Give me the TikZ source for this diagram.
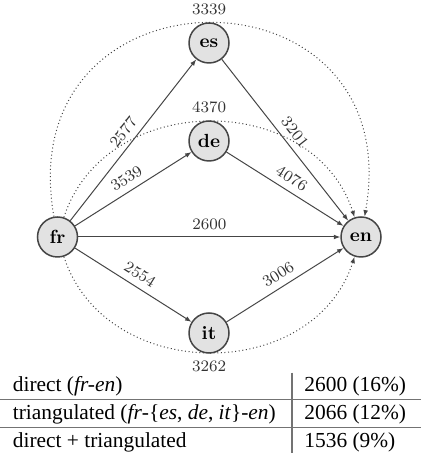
\documentclass[tikz,border=0pt]{standalone}
\usepackage{fontspec}
\newfontfamily\tabfont{Liberation Serif}
\usetikzlibrary{arrows.meta}
\definecolor{lnc}{HTML}{454545}
\definecolor{nfill}{HTML}{E2E2E2}
\begin{document}
\begin{tikzpicture}[x=0.5pt,y=0.5pt,
  lang/.style={circle,draw=lnc,fill=nfill,line width=0.75pt,minimum size=20pt,inner sep=0pt,
    font=\fontsize{9.5}{11}\selectfont\bfseries},
  cnt/.style={font=\fontsize{8}{9}\selectfont,text=black!80},
  edge/.style={draw=lnc,line width=0.5pt,-{Latex[length=3.2pt,width=2.4pt]}},
  arcd/.style={draw=lnc,line width=0.5pt,dash pattern=on 0.5pt off 1.3pt,-{Latex[length=3.2pt,width=2.4pt]}},
  lbl/.style={midway,above,sloped,font=\fontsize{8}{9}\selectfont,text=black!80},
  tline/.style={draw=black!55,line width=0.6pt},
  ttext/.style={anchor=base west,inner sep=0pt,font=\tabfont\fontsize{10.7}{12}\selectfont}]
\useasboundingbox (0,0) rectangle (421,453);
% language nodes
\node[lang] (fr) at (57.5,216) {fr};
\node[lang] (en) at (361,216) {en};
\node[lang,label={[cnt]above:3339}] (es) at (209,410) {es};
\node[lang,label={[cnt]above:4370}] (de) at (209,312) {de};
\node[lang,label={[cnt]below:3262}] (it) at (209,120) {it};
% dotted triangulation arcs
\draw[arcd] (fr.100) .. controls +(100:262) and +(80:262) .. (en.80);
\draw[arcd] (fr.72) .. controls +(72:134) and +(108:134) .. (en.108);
\draw[arcd] (fr.-72) .. controls +(-72:134) and +(-108:134) .. (en.-108);
% direct edges
\draw[edge] (fr) -- node[lbl]{2577} (es);
\draw[edge] (fr) -- node[lbl]{3539} (de);
\draw[edge] (fr) -- node[lbl]{2600} (en);
\draw[edge] (fr) -- node[lbl]{2554} (it);
\draw[edge] (es) -- node[lbl]{3201} (en);
\draw[edge] (de) -- node[lbl]{4076} (en);
\draw[edge] (it) -- node[lbl]{3006} (en);
% table
\coordinate (hl1) at (0,53.7); \coordinate (hr1) at (421,53.7);
\coordinate (hl2) at (0,25.3); \coordinate (hr2) at (421,25.3);
\coordinate (vt) at (292,80.3); \coordinate (vb) at (292,0);
\draw[tline] (hl1) -- (hr1);
\draw[tline] (hl2) -- (hr2);
\draw[tline] (vt) -- (vb);
\node[ttext] (r1a) at (12.5,61.3) {direct (\textit{fr-en})};
\node[ttext] (r2a) at (12.5,33) {triangulated (\textit{fr}-\{\textit{es}, \textit{de}, \textit{it}\}-\textit{en})};
\node[ttext] (r3a) at (12.5,5.7) {direct + triangulated};
\node[ttext] (r1b) at (304,61.3) {2600 (16\%)};
\node[ttext] (r2b) at (304,33) {2066 (12\%)};
\node[ttext] (r3b) at (304,5.7) {1536 (9\%)};
\end{tikzpicture}
\end{document}
